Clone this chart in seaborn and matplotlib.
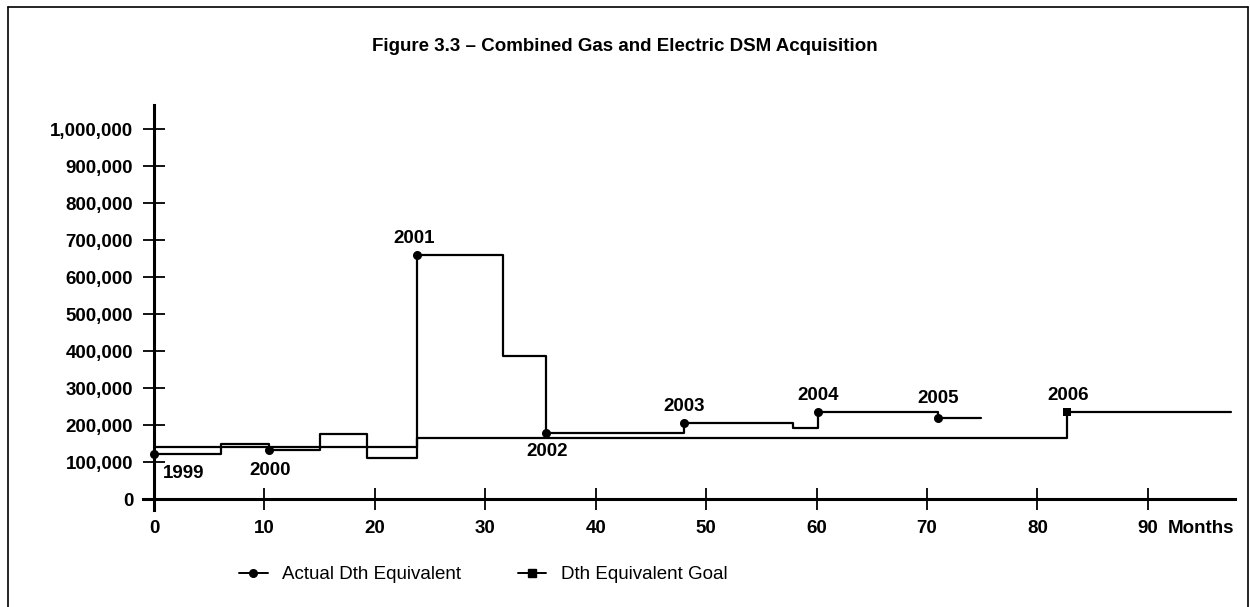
import matplotlib
matplotlib.use("Agg")
import matplotlib.pyplot as plt
import seaborn as sns
import pandas as pd
from matplotlib.lines import Line2D
from matplotlib.ticker import FuncFormatter

# Données (mois depuis 1999, Dth)
months_actual = [0, 6.1, 10.4, 15.0, 19.25, 23.8, 31.6, 35.5, 48.0, 57.9, 60.1, 71.0, 74.9]
actual_dth = [121000, 148000, 132000, 176000, 110000, 659000, 386000, 178000,
              206000, 191000, 236000, 218000, 218000]
actual_marks = [0, 2, 5, 7, 8, 10, 11]

months_goal = [0, 23.8, 82.7, 97.5]
goal_dth = [140000, 165000, 236000, 236000]
goal_marks = [2]

year_labels = ['1999', '2000', '2001', '2002', '2003', '2004', '2005', '2006']
year_label_x = [2.7, 10.5, 23.6, 35.6, 48.0, 60.1, 71.0, 82.8]
year_label_y = [68000, 78000, 704000, 128000, 250000, 281000, 272000, 281000]

y_ticks = list(range(0, 1000001, 100000))
x_ticks = list(range(0, 91, 10))

FS = 13.5

sns.set_theme(style="white")
plt.rcParams['font.family'] = ['Liberation Sans', 'DejaVu Sans']
plt.rcParams['text.color'] = 'black'

df_actual = pd.DataFrame({'month': months_actual, 'dth': actual_dth})
df_goal = pd.DataFrame({'month': months_goal, 'dth': goal_dth})

fig = plt.figure(figsize=(12.5, 6.07), dpi=100)
ax = fig.add_axes([0.1144, 0.1596, 0.8736, 0.6674])

sns.lineplot(data=df_actual, x='month', y='dth', ax=ax, color='black', lw=1.6,
             drawstyle='steps-post', estimator=None, marker='o', ms=6.5,
             markevery=actual_marks, markeredgewidth=0)
sns.lineplot(data=df_goal, x='month', y='dth', ax=ax, color='black', lw=1.6,
             drawstyle='steps-post', estimator=None, marker='s', ms=6,
             markevery=goal_marks, markeredgewidth=0)

for lab, xx, yy in zip(year_labels, year_label_x, year_label_y):
    ax.text(xx, yy, lab, ha='center', va='center', fontsize=FS, fontweight='bold',
            color='black')

ax.set_xlim(-1, 97.9)
ax.set_ylim(-30000, 1065000)
ax.spines['left'].set_position(('data', 0))
ax.spines['bottom'].set_position(('data', 0))
ax.spines['top'].set_visible(False)
ax.spines['right'].set_visible(False)
for s in ['left', 'bottom']:
    ax.spines[s].set_linewidth(2.2)
    ax.spines[s].set_color('black')

ax.set_xticks(x_ticks)
ax.set_yticks(y_ticks)
ax.yaxis.set_major_formatter(FuncFormatter(lambda v, p: f'{int(v):,}'))
ax.tick_params(axis='both', direction='inout', length=16, width=1.3, color='black',
               labelsize=FS, labelcolor='black', bottom=True, left=True)
ax.tick_params(axis='y', pad=7)
ax.tick_params(axis='x', pad=7)
for t in ax.get_xticklabels() + ax.get_yticklabels():
    t.set_fontweight('bold')
ax.set_xlabel('')
ax.set_ylabel('')
ax.grid(False)
ax.annotate('Months', xy=(91.8, 0), xycoords='data', xytext=(0, -15),
            textcoords='offset points', ha='left', va='top', fontsize=FS,
            fontweight='bold', color='black')

fig.suptitle('Figure 3.3 – Combined Gas and Electric DSM Acquisition', x=0.5, y=0.9226,
             va='center', fontsize=FS, fontweight='bold', color='black')

handles = [Line2D([], [], color='black', lw=1.4, marker='o', ms=5.5),
           Line2D([], [], color='black', lw=1.4, marker='s', ms=5.5)]
fig.legend(handles, ['Actual Dth Equivalent', 'Dth Equivalent Goal'], loc='center left',
           bbox_to_anchor=(0.178, 0.053), ncol=2, frameon=False, fontsize=FS,
           handlelength=1.5, handletextpad=0.8, columnspacing=3.0, labelcolor='black')

# cadre de la figure
for xs, ys in [([0.006, 0.006], [0.0, 0.988]), ([0.006, 0.998], [0.988, 0.988]),
               ([0.998, 0.998], [0.0, 0.988])]:
    fig.add_artist(Line2D(xs, ys, transform=fig.transFigure, color='black', lw=1.2))

fig.savefig('out.png', dpi=100)
plt.close(fig)
